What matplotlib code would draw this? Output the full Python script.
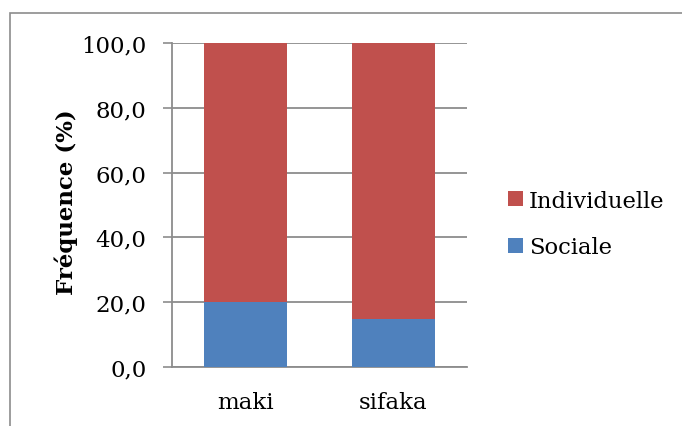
import matplotlib
matplotlib.use("Agg")
import matplotlib.pyplot as plt
from matplotlib.patches import Patch, Rectangle

categories = ["maki", "sifaka"]
sociale = [20.0, 14.7]
individuelle = [80.0, 85.3]
yticks = [0, 20, 40, 60, 80, 100]
ytick_labels = ["0,0", "20,0", "40,0", "60,0", "80,0", "100,0"]
series_names = ["Individuelle", "Sociale"]

RED = "#C0504D"
BLUE = "#4F81BD"
GRID = "#8C8C8C"

plt.rcParams["font.family"] = ["DejaVu Serif"]

W, H = 682, 427
fig = plt.figure(figsize=(W / 100, H / 100), dpi=100)
ax = fig.add_axes([172 / W, 1 - 368 / H, (467 - 172) / W, (368 - 44) / H])

x = list(range(len(categories)))
ax.bar(x, sociale, width=0.566, color=BLUE, zorder=3)
ax.bar(x, individuelle, width=0.566, bottom=sociale, color=RED, zorder=3)

ax.set_xlim(-0.5, len(categories) - 0.5)
ax.set_ylim(0, 100)
ax.set_yticks(yticks)
ax.set_yticklabels(ytick_labels)
ax.set_xticks(x)
ax.set_xticklabels(categories)
ax.tick_params(axis="y", length=6.5, width=1.2, color=GRID, pad=12, labelsize=16.5)
ax.tick_params(axis="x", length=0, pad=17, labelsize=16.5)

ax.yaxis.grid(True, color=GRID, linewidth=1.3, zorder=0)
ax.set_axisbelow(True)
for s in ["top", "right"]:
    ax.spines[s].set_visible(False)
for s in ["left", "bottom"]:
    ax.spines[s].set_color(GRID)
    ax.spines[s].set_linewidth(1.3)

fig.text(66 / W, 1 - 202 / H, "Fréquence (%)", rotation=90, ha="center",
         va="center", fontsize=16.5, fontweight="bold")

handles = [Patch(facecolor=RED), Patch(facecolor=BLUE)]
fig.legend(handles, series_names, loc="center left",
           bbox_to_anchor=(508 / W, 1 - 225 / H), frameon=False,
           fontsize=16.3, handlelength=0.68, handleheight=0.68,
           handletextpad=0.25, labelspacing=1.1, borderpad=0.0,
           borderaxespad=0.0)

border = Rectangle((10 / W, -0.1), 1.2, 1 - 14 / H + 0.1,
                   transform=fig.transFigure, fill=False,
                   edgecolor="#8C8C8C", linewidth=1.2)
fig.add_artist(border)

fig.savefig("out.png", dpi=100)
